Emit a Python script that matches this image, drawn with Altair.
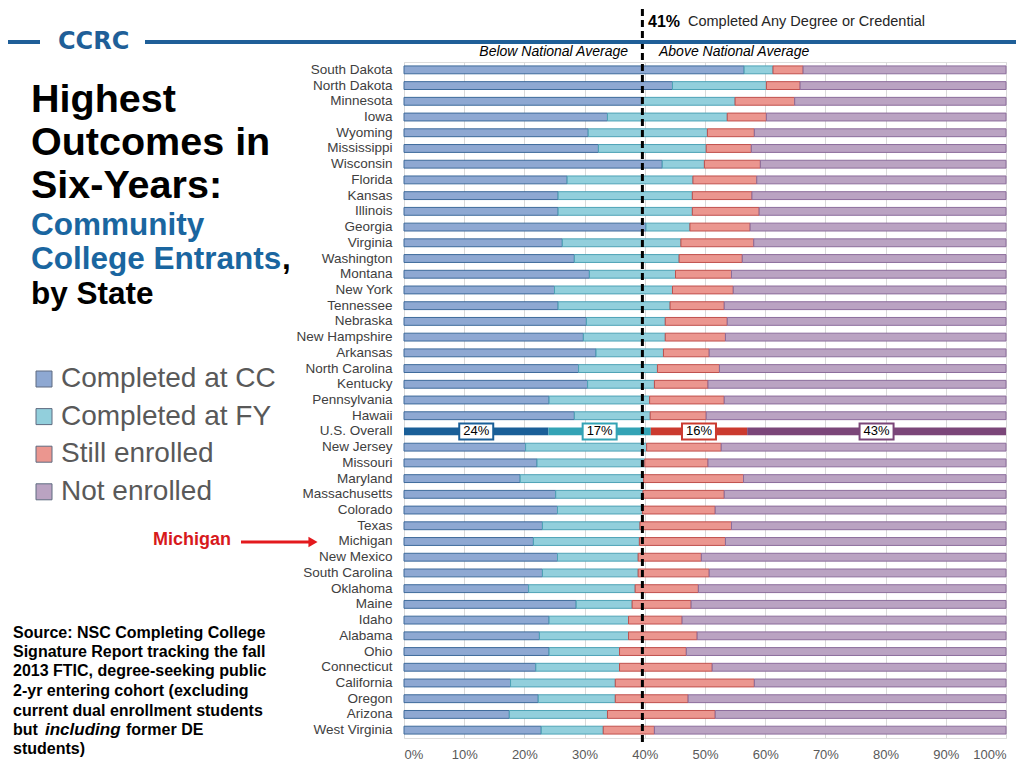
import altair as alt
import pandas as pd

states = ["South Dakota", "North Dakota", "Minnesota", "Iowa", "Wyoming", "Mississippi",
          "Wisconsin", "Florida", "Kansas", "Illinois", "Georgia", "Virginia", "Washington",
          "Montana", "New York", "Tennessee", "Nebraska", "New Hampshire", "Arkansas",
          "North Carolina", "Kentucky", "Pennsylvania", "Hawaii", "U.S. Overall", "New Jersey",
          "Missouri", "Maryland", "Massachusetts", "Colorado", "Texas", "Michigan", "New Mexico",
          "South Carolina", "Oklahoma", "Maine", "Idaho", "Alabama", "Ohio", "Connecticut",
          "California", "Oregon", "Arizona", "West Virginia"]
completed_cc = [56.5, 44.6, 39.5, 33.8, 30.6, 32.3, 42.9, 27.1, 25.6, 25.6, 40.2, 26.3, 28.3,
                30.8, 25.0, 25.6, 30.3, 29.8, 31.9, 29.0, 30.5, 24.1, 28.3, 24.0, 20.2,
                22.1, 19.3, 25.2, 25.5, 23.0, 21.5, 25.5, 23.0, 20.7, 28.6, 24.1, 22.5, 24.1,
                21.9, 17.7, 22.3, 17.5, 22.8]
completed_fy = [4.8, 15.6, 15.5, 19.9, 19.8, 17.9, 7.0, 20.9, 22.3, 22.3, 7.3, 19.7, 17.4,
                14.3, 19.6, 18.6, 13.1, 13.6, 11.2, 13.1, 11.1, 16.7, 12.6, 17.0, 20.1,
                17.9, 20.5, 14.5, 14.1, 16.2, 17.6, 13.4, 15.9, 17.7, 9.3, 13.2, 14.8, 11.7,
                13.9, 17.4, 12.8, 16.3, 10.3]
still_enrolled = [5.0, 5.6, 9.9, 6.5, 7.8, 7.5, 9.3, 10.6, 9.9, 11.1, 10.0, 12.1, 10.5,
                  9.3, 10.1, 9.0, 10.3, 10.0, 7.6, 10.3, 8.9, 12.4, 9.3, 16.0, 12.4,
                  10.5, 16.6, 13.5, 12.1, 15.2, 14.3, 10.5, 11.8, 10.5, 9.8, 8.9, 11.4, 11.1,
                  15.4, 23.1, 12.1, 17.9, 8.5]
not_enrolled = [33.7, 34.2, 35.1, 39.8, 41.8, 42.3, 40.8, 41.4, 42.2, 41.0, 42.5, 41.9, 43.8,
                45.6, 45.3, 46.8, 46.3, 46.6, 49.3, 47.6, 49.5, 46.8, 49.8, 43.0, 47.3,
                49.5, 43.6, 46.8, 48.3, 45.6, 46.6, 50.6, 49.3, 51.1, 52.3, 53.8, 51.3, 53.1,
                48.8, 41.8, 52.8, 48.3, 58.4]
categories = ["Completed at CC", "Completed at FY", "Still enrolled", "Not enrolled"]
x_ticks = [0, 10, 20, 30, 40, 50, 60, 70, 80, 90, 100]
national_line = [39.6]
us_name = "U.S. Overall"

fill_colors = ["#8ea8d2", "#92cfdc", "#eb968f", "#baa3c2"]
stroke_colors = ["#3e6b9b", "#4ea3b6", "#c0504d", "#8c6d9c"]
us_colors = ["#1a5f98", "#33a3b5", "#cb3a2f", "#7b4679"]

rows = []
series = [completed_cc, completed_fy, still_enrolled, not_enrolled]
for i, s in enumerate(states):
    for j, cat in enumerate(categories):
        rows.append({"state": s, "cat": cat, "order": j, "value": series[j][i],
                     "us_color": us_colors[j]})
df = pd.DataFrame(rows)

FONT = "Liberation Sans"
OX, OY = 404, 62  # plot origin on the page


def txt(s, xp, yp, size, color="black", weight="normal", style="normal", align="left",
        font=FONT):
    return alt.Chart(pd.DataFrame({"t": [s]})).mark_text(
        align=align, baseline="middle", fontSize=size, color=color, fontWeight=weight,
        fontStyle=style, font=font
    ).encode(text="t:N", x=alt.value(xp - OX), y=alt.value(yp - OY))


yenc = alt.Y("state:N", sort=states, title=None,
             scale=alt.Scale(domain=states, paddingInner=0.5, paddingOuter=0.25),
             axis=alt.Axis(labelFontSize=13.5, labelColor="#404040", labelPadding=12,
                           ticks=False, domain=False, labelFont=FONT))
xenc = alt.X("value:Q", stack="zero", title=None,
             scale=alt.Scale(domain=[0, 100], nice=False),
             axis=alt.Axis(values=x_ticks, labelExpr="datum.value + '%'", labelFontSize=13,
                           labelColor="#595959", labelPadding=10, ticks=False, domain=False,
                           grid=True, gridColor="#d9d9d9", labelFont=FONT))

legend_kw = dict(title=None, orient="none", legendX=-374, legendY=303, symbolType="square",
                 symbolSize=256, labelFontSize=28, labelColor="#595959", labelFont=FONT,
                 labelLimit=400, rowPadding=9.6, labelOffset=3, symbolStrokeWidth=1,
                 symbolStrokeColor="#5f6b80", symbolOpacity=1)

bars = alt.Chart(df).transform_filter(alt.datum.state != us_name).mark_bar(strokeWidth=1).encode(
    y=yenc, x=xenc,
    fill=alt.Fill("cat:N", scale=alt.Scale(domain=categories, range=fill_colors),
                  legend=alt.Legend(**legend_kw)),
    stroke=alt.Stroke("cat:N", scale=alt.Scale(domain=categories, range=stroke_colors),
                      legend=None),
    order=alt.Order("order:Q"),
)

us_bar = alt.Chart(df).transform_filter(alt.datum.state == us_name).mark_bar().encode(
    y=alt.Y("state:N", sort=states, title=None),
    x=alt.X("value:Q", stack="zero", title=None),
    color=alt.Color("us_color:N", scale=None),
    order=alt.Order("order:Q"),
)

us_base = alt.Chart(df).transform_filter(alt.datum.state == us_name).transform_stack(
    stack="value", groupby=["state"], sort=[alt.SortField("order")], as_=["x0", "x1"]
).transform_calculate(mid="(datum.x0 + datum.x1) / 2",
                      label="format(datum.value, '.0f') + '%'")

us_box = us_base.mark_point(
    shape="M-1,-0.47L1,-0.47L1,0.47L-1,0.47Z", size=1156, filled=True, fill="white",
    fillOpacity=1, strokeWidth=2, opacity=1
).encode(
    x=alt.X("mid:Q", title=None), y=alt.Y("state:N", sort=states, title=None),
    stroke=alt.Stroke("us_color:N", scale=None),
)
us_text = us_base.mark_text(fontSize=13, color="black", font=FONT, baseline="middle").encode(
    x=alt.X("mid:Q", title=None), y=alt.Y("state:N", sort=states, title=None),
    text="label:N",
)

dash = alt.Chart(pd.DataFrame({"v": national_line})).mark_rule(
    color="black", strokeWidth=3, strokeDash=[7, 4]
).encode(x=alt.X("v:Q", title=None), y=alt.value(9 - OY), y2=alt.value(742 - OY))

blue1 = alt.Chart(pd.DataFrame({"a": [0]})).mark_rule(color="#1f5f98", strokeWidth=4).encode(
    x=alt.value(0 - OX), x2=alt.value(40 - OX), y=alt.value(42 - OY))
blue2 = alt.Chart(pd.DataFrame({"a": [0]})).mark_rule(color="#1f5f98", strokeWidth=4).encode(
    x=alt.value(145 - OX), x2=alt.value(1024 - OX), y=alt.value(42 - OY))

arrow_line = alt.Chart(pd.DataFrame({"a": [0]})).mark_rule(color="#e3191d", strokeWidth=3).encode(
    x=alt.value(241 - OX), x2=alt.value(310 - OX), y=alt.value(542 - OY))
arrow_head = alt.Chart(pd.DataFrame({"a": [0]})).mark_point(
    shape="triangle-right", filled=True, color="#e3191d", size=110, opacity=1
).encode(x=alt.value(313 - OX), y=alt.value(542 - OY))

texts = [
    txt("CCRC", 58, 42, 24, color="#1f5f98", weight="bold", font="DejaVu Sans"),
    txt("Highest", 31, 100, 39.5, weight="bold"),
    txt("Outcomes in", 31, 143, 39.5, weight="bold"),
    txt("Six-Years:", 31, 186, 39.5, weight="bold"),
    txt("Community", 31, 226, 31.5, color="#1a66a0", weight="bold"),
    txt("College Entrants", 31, 260, 31.5, color="#1a66a0", weight="bold"),
    txt(",", 282, 260, 31.5, weight="bold"),
    txt("by State", 31, 295, 31.5, weight="bold"),
    txt("Michigan", 153, 540, 18, color="#d7191c", weight="bold"),
    txt("Source: NSC Completing College", 13, 633, 16, weight="bold"),
    txt("Signature Report tracking the fall", 13, 652, 16, weight="bold"),
    txt("2013 FTIC, degree-seeking public", 13, 671, 16, weight="bold"),
    txt("2-yr entering cohort (excluding", 13, 691, 16, weight="bold"),
    txt("current dual enrollment students", 13, 711, 16, weight="bold"),
    txt("but", 13, 730, 16, weight="bold"),
    txt("including", 45, 730, 17, weight="bold", style="italic"),
    txt("former DE", 126, 730, 16, weight="bold"),
    txt("students)", 13, 749, 16, weight="bold"),
    txt("41%", 648, 22, 16, weight="bold"),
    txt("Completed Any Degree or Credential", 688, 22, 14.5, color="#262626"),
    txt("Below National Average", 628, 52, 14, style="italic", align="right"),
    txt("Above National Average", 659, 52, 14, style="italic"),
]

chart = alt.layer(bars, us_bar, dash, us_box, us_text, blue1, blue2, arrow_line, arrow_head,
                  *texts).resolve_scale(stroke="independent", color="independent").properties(
    width=602, height=676,
    autosize=alt.AutoSizeParams(type="none"),
    padding={"left": OX - 8, "top": OY - 8, "right": 1008 - (OX - 8) - 602,
             "bottom": 752 - (OY - 8) - 676},
).configure_view(stroke=None).configure(font=FONT)

chart.save("out.html", embed_options={"renderer": "svg", "actions": False})
